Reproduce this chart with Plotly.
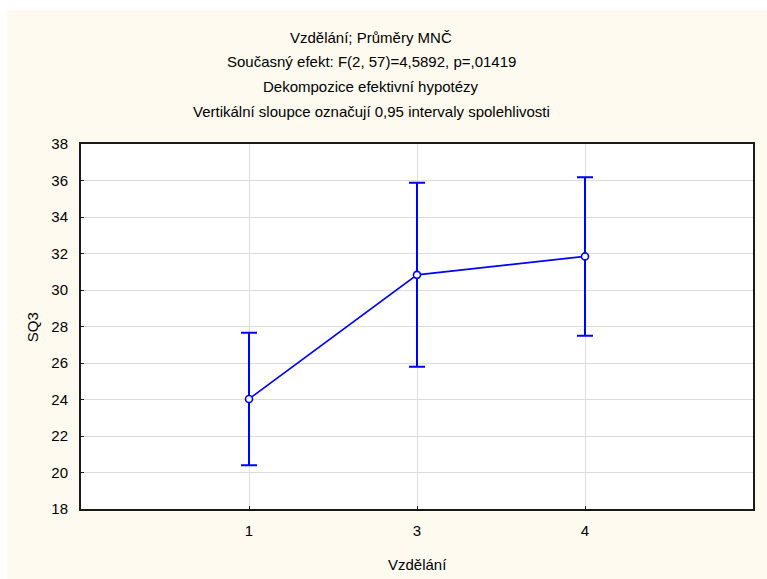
import plotly.graph_objects as go

# Means of SQ3 by education level with 95% confidence half-widths
categories = ["1", "3", "4"]
means = [24.03, 30.83, 31.84]
ci_half = [3.63, 5.04, 4.34]

title_lines = [
    "Vzdělání; Průměry MNČ",
    "Současný efekt: F(2, 57)=4,5892, p=,01419",
    "Dekompozice efektivní hypotézy",
    "Vertikální sloupce označují 0,95 intervaly spolehlivosti",
]
y_ticks = list(range(18, 39, 2))

W, H = 767, 579
L, R, T, B = 81, 12, 144, 70
plot_h = H - T - B
plot_w = W - L - R

FONT = "Liberation Sans, Arial, sans-serif"
FS = 15
BLUE = "#0000FF"
CREAM = "#FFFAF0"
AXIS = "#1a1a1a"

x_idx = list(range(len(categories)))

fig = go.Figure()
fig.add_trace(go.Scatter(
    x=x_idx, y=means,
    mode="lines+markers",
    line=dict(color=BLUE, width=1.6),
    marker=dict(symbol="circle", size=7, color="white",
                line=dict(color=BLUE, width=1.6)),
    error_y=dict(type="data", array=ci_half, visible=True,
                 color=BLUE, thickness=2, width=8),
    showlegend=False,
    hoverinfo="skip",
))

def py_to_paper(py):
    return 1 + (T - py) / plot_h

def px_to_paper(px):
    return (px - L) / plot_w

annotations = []
for i, line in enumerate(title_lines):
    annotations.append(dict(
        text=line, xref="paper", yref="paper",
        x=px_to_paper(372), y=py_to_paper(37 + i * 24.7),
        xanchor="center", yanchor="middle", showarrow=False,
        font=dict(family=FONT, size=FS, color="black"),
    ))
annotations.append(dict(
    text="Vzdělání", xref="paper", yref="paper",
    x=px_to_paper(418), y=py_to_paper(564),
    xanchor="center", yanchor="middle", showarrow=False,
    font=dict(family=FONT, size=FS, color="black"),
))
annotations.append(dict(
    text="SQ3", xref="paper", yref="paper", textangle=-90,
    x=px_to_paper(32), y=py_to_paper(327),
    xanchor="center", yanchor="middle", showarrow=False,
    font=dict(family=FONT, size=FS, color="black"),
))

shapes = [
    # cream frame behind everything
    dict(type="rect", xref="paper", yref="paper", layer="below",
         x0=px_to_paper(7), x1=px_to_paper(W + 5),
         y0=py_to_paper(H + 5), y1=py_to_paper(10),
         fillcolor=CREAM, line=dict(width=0)),
    # white plotting area
    dict(type="rect", xref="paper", yref="paper", layer="below",
         x0=0, x1=1, y0=0, y1=1,
         fillcolor="white", line=dict(width=0)),
]

fig.update_layout(
    width=W, height=H,
    margin=dict(l=L, r=R, t=T, b=B),
    paper_bgcolor="white",
    plot_bgcolor="white",
    font=dict(family=FONT, size=FS, color="black"),
    annotations=annotations,
    shapes=shapes,
)
fig.update_xaxes(
    range=[-1, 3],
    tickmode="array", tickvals=x_idx, ticktext=categories,
    showgrid=True, gridcolor="#DCDCDC", gridwidth=1,
    showline=True, linecolor=AXIS, linewidth=2, mirror=True,
    ticks="inside", ticklen=3, tickcolor=AXIS,
    ticklabelstandoff=7,
    zeroline=False,
    tickfont=dict(family=FONT, size=FS, color="black"),
)
fig.update_yaxes(
    range=[18, 38],
    tickmode="array", tickvals=y_ticks,
    showgrid=True, gridcolor="#DCDCDC", gridwidth=1,
    showline=True, linecolor=AXIS, linewidth=2, mirror=True,
    ticks="inside", ticklen=3, tickcolor=AXIS,
    ticklabelstandoff=8,
    zeroline=False,
    tickfont=dict(family=FONT, size=FS, color="black"),
)

fig.write_html("out.html")
